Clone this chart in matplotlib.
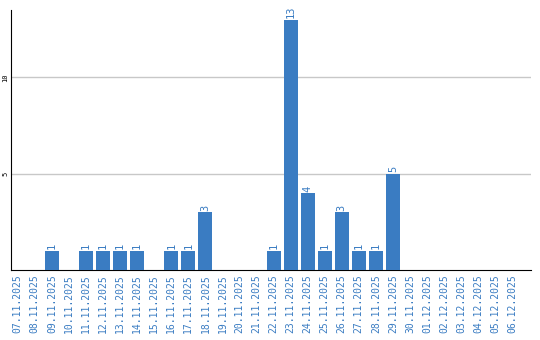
import matplotlib
matplotlib.use("Agg")
import matplotlib.pyplot as plt

# Daten
dates = ["07.11.2025", "08.11.2025", "09.11.2025", "10.11.2025", "11.11.2025",
         "12.11.2025", "13.11.2025", "14.11.2025", "15.11.2025", "16.11.2025",
         "17.11.2025", "18.11.2025", "19.11.2025", "20.11.2025", "21.11.2025",
         "22.11.2025", "23.11.2025", "24.11.2025", "25.11.2025", "26.11.2025",
         "27.11.2025", "28.11.2025", "29.11.2025", "30.11.2025", "01.12.2025",
         "02.12.2025", "03.12.2025", "04.12.2025", "05.12.2025", "06.12.2025"]
counts = [0, 0, 1, 0, 1, 1, 1, 1, 0, 1, 1, 3, 0, 0, 0,
          1, 13, 4, 1, 3, 1, 1, 5, 0, 0, 0, 0, 0, 0, 0]

BAR = "#3a7cc2"
FONT = "DejaVu Sans Mono"

fig = plt.figure(figsize=(5.4, 3.4), dpi=100)
ax = fig.add_axes([11 / 540, 70 / 340, 520 / 540, 260 / 340])

x = list(range(len(dates)))
ax.bar(x, counts, width=0.82, color=BAR, zorder=3)

# Werte über den Balken
for xi, c in zip(x, counts):
    if c > 0:
        ax.annotate(str(c), (xi, c), textcoords="offset points", xytext=(0, 1),
                    rotation=90, ha="center", va="bottom", fontsize=7.5,
                    color=BAR, family=FONT)

ax.set_xlim(-0.4, 30.1)
ax.set_ylim(0, 13.5)
ax.set_xticks(x)
ax.set_xticklabels(dates, rotation=90, fontsize=7, color=BAR, family=FONT)
ax.set_yticks([5, 10])
ax.set_yticklabels(["5", "10"], rotation=90, fontsize=5, family=FONT, va="center")
ax.tick_params(axis="x", length=0, pad=3)
ax.tick_params(axis="y", length=0, pad=2)
ax.yaxis.grid(True, color="#c8c8c8", linewidth=1, zorder=0)

ax.spines["top"].set_visible(False)
ax.spines["right"].set_visible(False)
ax.spines["left"].set_color("black")
ax.spines["bottom"].set_color("black")

fig.savefig("out.png", dpi=100)
